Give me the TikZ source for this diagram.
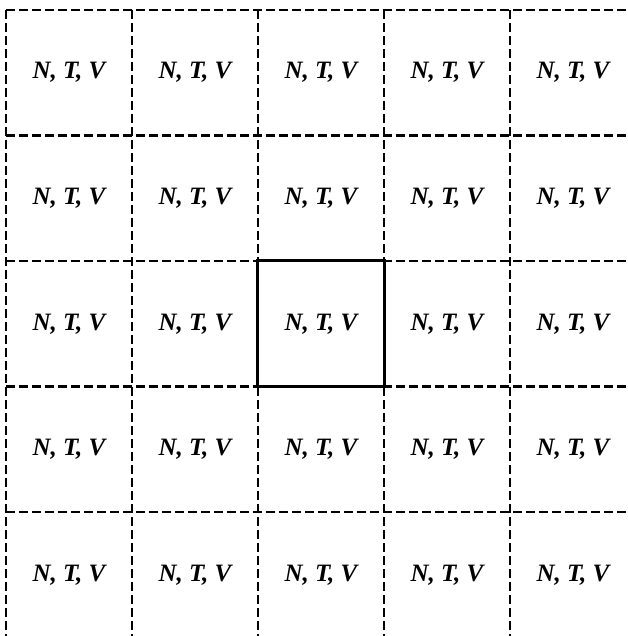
\documentclass[tikz,border=0pt]{standalone}
\usepackage{fontspec}
\setmainfont{Liberation Serif}
\tikzset{
  gridline/.style={line width=2.4pt, dash pattern=on 9pt off 4pt},
  cell/.style={inner sep=0pt, minimum width=126pt, minimum height=125.5pt,
    font=\fontsize{25}{29}\selectfont\bfseries\itshape},
  centrebox/.style={line width=3.2pt}
}
\begin{document}
\begin{tikzpicture}[x=1pt,y=-1pt]
\useasboundingbox (0,0) rectangle (627,636);
% dashed grid
\foreach \i in {0,...,4}
  \draw[gridline] (6+126*\i,10) -- (6+126*\i,636);
\foreach \j in {0,...,4}
  \draw[gridline] (6,10+125.5*\j) -- (627,10+125.5*\j);
% cells
\foreach \r in {1,...,5}
  \foreach \c in {1,...,5}
    \node[cell] (n\r\c) at (126*\c-57, 125.5*\r-52.75) {N, T, V};
% the middle cell
\draw[centrebox] (n33.north west) rectangle (n33.south east);
\end{tikzpicture}
\end{document}
